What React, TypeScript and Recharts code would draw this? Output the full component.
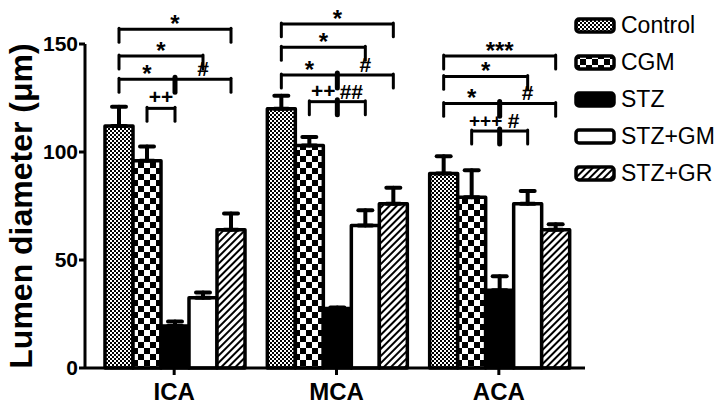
import React from 'react'
import { BarChart, Bar, XAxis, YAxis, Legend, ErrorBar, Rectangle } from 'recharts'

const groups = ['ICA', 'MCA', 'ACA']
const control = [112, 120, 90]
const controlErr = [9, 6, 8]
const cgm = [96, 103, 79]
const cgmErr = [6.5, 4, 12.5]
const stz = [19.5, 27.5, 36]
const stzErr = [2, 0.5, 6.5]
const stzGm = [32.5, 66, 76]
const stzGmErr = [2.5, 7, 6]
const stzGr = [64, 76, 64]
const stzGrErr = [7.5, 7.5, 2.5]
const yTicks = [0, 50, 100, 150]

// significance brackets: bar index from/to inside the group, level in µm, label
const icaBrackets = [
  { from: 0, to: 4, level: 156.8, label: '*' },
  { from: 0, to: 3, level: 144.4, label: '*' },
  { from: 0, to: 2, level: 133.7, label: '*' },
  { from: 2, to: 4, level: 133.7, label: '#' },
  { from: 1, to: 2, level: 120.2, label: '++' },
]
const mcaBrackets = [
  { from: 0, to: 4, level: 159.3, label: '*' },
  { from: 0, to: 3, level: 148.5, label: '*' },
  { from: 0, to: 2, level: 135.6, label: '*' },
  { from: 2, to: 4, level: 135.6, label: '#' },
  { from: 1, to: 2, level: 123.3, label: '++' },
  { from: 2, to: 3, level: 123.3, label: '##' },
]
const acaBrackets = [
  { from: 0, to: 4, level: 144.4, label: '***' },
  { from: 0, to: 3, level: 135, label: '*' },
  { from: 0, to: 2, level: 122.5, label: '*' },
  { from: 2, to: 4, level: 122.5, label: '#' },
  { from: 1, to: 2, level: 109.7, label: '+++' },
  { from: 2, to: 3, level: 109.7, label: '#' },
]
const brackets = [icaBrackets, mcaBrackets, acaBrackets]

const data = groups.map((name, i) => ({
  name,
  control: control[i],
  controlErr: [0, controlErr[i]],
  cgm: cgm[i],
  cgmErr: [0, cgmErr[i]],
  stz: stz[i],
  stzErr: [0, stzErr[i]],
  stzGm: stzGm[i],
  stzGmErr: [0, stzGmErr[i]],
  stzGr: stzGr[i],
  stzGrErr: [0, stzGrErr[i]],
}))

const FONT = 'Arial, "Liberation Sans", Helvetica, sans-serif'

const fills: Record<string, string> = {
  control: 'url(#patFine)',
  cgm: 'url(#patChecker)',
  stz: '#000',
  stzGm: '#fff',
  stzGr: 'url(#patHatch)',
}

const series = [
  { key: 'control', name: 'Control' },
  { key: 'cgm', name: 'CGM' },
  { key: 'stz', name: 'STZ' },
  { key: 'stzGm', name: 'STZ+GM' },
  { key: 'stzGr', name: 'STZ+GR' },
]

const DROP = 6

// last bar of each group also draws the group's brackets, using its own scale
const LastBarShape = (props: any) => {
  const { x, y, width, height, payload, index } = props
  const value = payload.stzGr
  const perUnit = height / value
  const base = y + height
  const toY = (v: number) => base - v * perUnit
  const cx = (k: number) => x + width / 2 - (4 - k) * width
  const list = brackets[index] || []
  return (
    <g>
      <Rectangle {...props} />
      {list.map((b, i) => {
        const ly = toY(b.level)
        const x1 = cx(b.from)
        const x2 = cx(b.to)
        const sharedLeft = list.some((o) => o !== b && o.level === b.level && o.to === b.from)
        const star = b.label.includes('*')
        const ty = star ? ly + 3 : b.label.includes('+') ? ly - 4 : ly - 3
        const size = star ? 24 : b.label.length > 2 ? 19 : 21
        return (
          <g key={i}>
            <line x1={x1} x2={x2} y1={ly} y2={ly} stroke="#000" strokeWidth={3} />
            {!sharedLeft && (
              <line x1={x1} x2={x1} y1={ly - 1} y2={toY(b.level - DROP)} stroke="#000" strokeWidth={3} strokeLinecap="round" />
            )}
            {sharedLeft && (
              <line x1={x1} x2={x1} y1={ly - 2} y2={toY(b.level - DROP)} stroke="#000" strokeWidth={5} strokeLinecap="round" />
            )}
            <line x1={x2} x2={x2} y1={ly - 1} y2={toY(b.level - DROP)} stroke="#000" strokeWidth={3} strokeLinecap="round" />
            <text
              x={(x1 + x2) / 2}
              y={ty}
              textAnchor="middle"
              fontFamily={FONT}
              fontWeight="bold"
              fontSize={size}
              fill="#000"
            >
              {b.label}
            </text>
          </g>
        )
      })}
    </g>
  )
}

const renderLegend = (props: any) => {
  const { payload = [] } = props
  const order = series.map((s) => s.key)
  const items = [...payload].sort((a: any, b: any) => order.indexOf(a.dataKey) - order.indexOf(b.dataKey))
  return (
    <div style={{ display: 'flex', flexDirection: 'column', fontFamily: FONT }}>
      {items.map((entry: any) => (
        <div key={entry.value} style={{ height: 37, display: 'flex', alignItems: 'center' }}>
          <svg width={44} height={20}>
            <rect x={2} y={3} width={38} height={13} rx={3} fill={fills[entry.dataKey]} stroke="#000" strokeWidth={3.5} />
          </svg>
          <span style={{ fontSize: 23, marginLeft: 3, color: '#000', lineHeight: '23px' }}>{entry.value}</span>
        </div>
      ))}
    </div>
  )
}

export default function App() {
  return (
    <div style={{ position: 'absolute', left: 0, top: 0, background: '#fff', fontFamily: FONT }}>
      <BarChart
        width={720}
        height={411}
        data={data}
        margin={{ top: 44, right: 135, bottom: 0, left: 0 }}
        barGap={0}
        barCategoryGap={12}
      >
        <defs>
          <pattern id="patFine" width="4" height="4" patternUnits="userSpaceOnUse">
            <rect width="4" height="4" fill="#fff" />
            <rect width="2" height="2" fill="#000" />
            <rect x="2" y="2" width="2" height="2" fill="#000" />
          </pattern>
          <pattern id="patChecker" width="12" height="12" patternUnits="userSpaceOnUse">
            <rect width="12" height="12" fill="#fff" />
            <rect width="6" height="6" fill="#000" />
            <rect x="6" y="6" width="6" height="6" fill="#000" />
          </pattern>
          <pattern id="patHatch" width="5" height="5" patternUnits="userSpaceOnUse" patternTransform="rotate(45)">
            <rect width="5" height="5" fill="#fff" />
            <rect width="2" height="5" fill="#000" />
          </pattern>
        </defs>
        <XAxis
          dataKey="name"
          height={43}
          padding={{ left: 8, right: 5 }}
          axisLine={{ stroke: '#000', strokeWidth: 3 }}
          tickLine={{ stroke: '#000', strokeWidth: 3 }}
          tickSize={7}
          tickMargin={8}
          tick={{ fill: '#000', fontSize: 24, fontWeight: 'bold', fontFamily: FONT }}
        />
        <YAxis
          width={85}
          domain={[0, 150]}
          ticks={yTicks}
          axisLine={{ stroke: '#000', strokeWidth: 3 }}
          tickLine={{ stroke: '#000', strokeWidth: 3 }}
          tickSize={6}
          tickMargin={1}
          tick={{ fill: '#000', fontSize: 21, fontWeight: 'bold', fontFamily: FONT }}
          label={{
            value: 'Lumen diameter (μm)',
            angle: -90,
            position: 'insideLeft',
            offset: 21,
            style: { textAnchor: 'middle', fontSize: 32, fontWeight: 'bold', fill: '#000', fontFamily: FONT },
          }}
        />
        <Legend
          layout="vertical"
          align="center"
          verticalAlign="middle"
          wrapperStyle={{ left: 574, top: 7, width: 146 }}
          content={renderLegend}
        />
        {series.map((s) => (
          <Bar
            key={s.key}
            dataKey={s.key}
            name={s.name}
            fill={fills[s.key]}
            stroke="#000"
            strokeWidth={3.5}
            strokeLinejoin="round"
            isAnimationActive={false}
            shape={s.key === 'stzGr' ? LastBarShape : undefined}
          >
            <ErrorBar
              dataKey={`${s.key}Err`}
              direction="y"
              width={7}
              stroke="#000"
              strokeWidth={4}
              strokeLinecap="round"
              isAnimationActive={false}
            />
          </Bar>
        ))}
      </BarChart>
    </div>
  )
}
